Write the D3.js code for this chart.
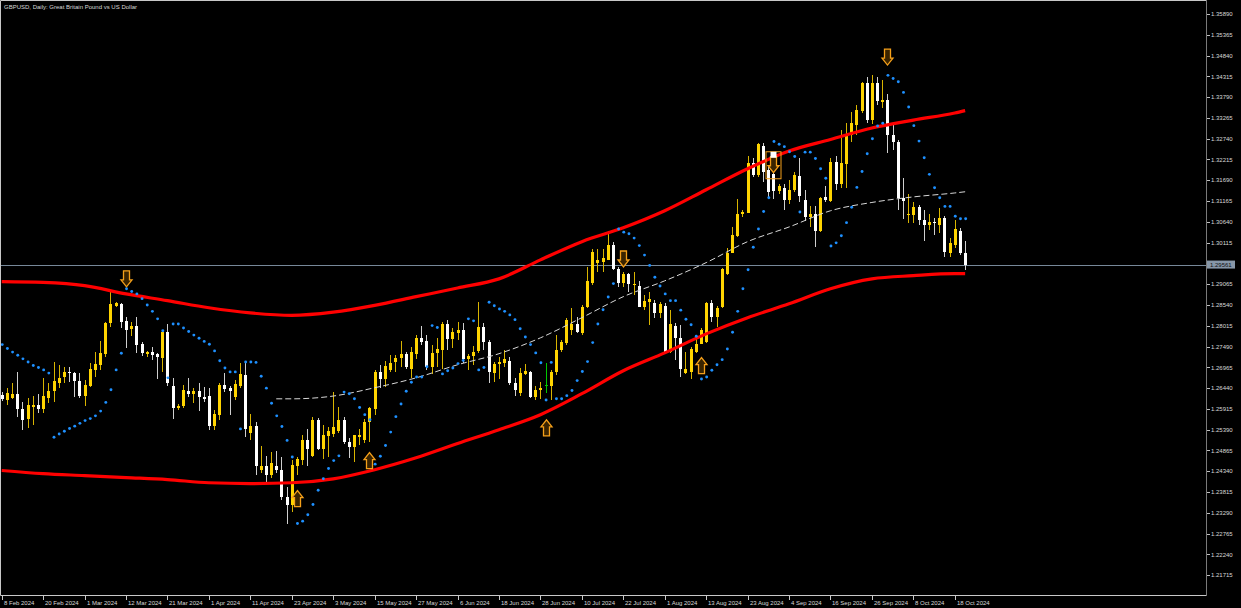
<!DOCTYPE html>
<html>
<head>
<meta charset="utf-8">
<script src="https://cdn.jsdelivr.net/npm/d3@7"></script>
<style>
  html, body { margin: 0; padding: 0; background: #000; }
  svg { display: block; }
</style>
</head>
<body>
<div id="chart"></div>
<script>
// GBPUSD daily, MetaTrader style: candles, parabolic SAR, envelope bands, signal arrows

const title = "GBPUSD, Daily:  Great Britain Pound vs US Dollar";

const open = [
1.2627,1.2615,1.2620,1.2630,1.2592,1.2567,1.2597,1.2602,1.2592,1.2620,
1.2637,1.2658,1.2672,1.2685,1.2683,1.2662,1.2625,1.2650,1.2690,1.2703,
1.2731,1.2809,1.2852,1.2857,1.2814,1.2794,1.2801,1.2756,1.2731,1.2736,
1.2731,1.2721,1.2786,1.2650,1.2593,1.2599,1.2637,1.2630,1.2637,1.2622,
1.2625,1.2549,1.2577,1.2653,1.2645,1.2622,1.2650,1.2678,1.2531,1.2549,
1.2438,1.2448,1.2425,1.2448,1.2438,1.2370,1.2350,1.2448,1.2463,1.2514,
1.2473,1.2564,1.2491,1.2524,1.2529,1.2536,1.2564,1.2509,1.2496,1.2521,
1.2514,1.2559,1.2592,1.2685,1.2668,1.2690,1.2711,1.2721,1.2731,1.2693,
1.2731,1.2771,1.2764,1.2698,1.2733,1.2741,1.2806,1.2769,1.2784,1.2791,
1.2718,1.2726,1.2738,1.2799,1.2761,1.2683,1.2706,1.2708,1.2713,1.2658,
1.2632,1.2680,1.2685,1.2622,1.2640,1.2653,1.2650,1.2685,1.2741,1.2759,
1.2791,1.2806,1.2784,1.2849,1.2910,1.2961,1.2963,1.2968,1.3006,1.2945,
1.2910,1.2933,1.2905,1.2902,1.2849,1.2862,1.2859,1.2834,1.2852,1.2736,
1.2801,1.2771,1.2683,1.2685,1.2736,1.2756,1.2761,1.2859,1.2824,1.2849,
1.2933,1.2986,1.3029,1.3085,1.3087,1.3213,1.3183,1.3256,1.3195,1.3185,
1.3142,1.3150,1.3120,1.3145,1.3180,1.3120,1.3077,1.3085,1.3042,1.3127,
1.3117,1.3216,1.3160,1.3211,1.3284,1.3309,1.3344,1.3415,1.3321,1.3415,
1.3367,1.3372,1.3284,1.3266,1.3125,1.3082,1.3082,1.3102,1.3069,1.3057,
1.3064,1.3057,1.3074,1.2986,1.3006,1.3041,1.2986
];
const high = [
1.2635,1.2645,1.2658,1.2685,1.2610,1.2620,1.2625,1.2630,1.2670,1.2658,
1.2711,1.2703,1.2698,1.2698,1.2685,1.2683,1.2665,1.2708,1.2736,1.2763,
1.2812,1.2887,1.2862,1.2860,1.2824,1.2812,1.2824,1.2761,1.2738,1.2748,
1.2733,1.2791,1.2806,1.2670,1.2605,1.2653,1.2670,1.2645,1.2658,1.2647,
1.2645,1.2590,1.2658,1.2683,1.2650,1.2665,1.2708,1.2711,1.2579,1.2559,
1.2498,1.2473,1.2483,1.2486,1.2471,1.2395,1.2463,1.2471,1.2526,1.2542,
1.2572,1.2569,1.2552,1.2546,1.2635,1.2597,1.2572,1.2519,1.2526,1.2542,
1.2567,1.2597,1.2690,1.2703,1.2713,1.2728,1.2728,1.2763,1.2736,1.2748,
1.2779,1.2801,1.2779,1.2753,1.2771,1.2812,1.2817,1.2796,1.2812,1.2809,
1.2731,1.2751,1.2862,1.2809,1.2766,1.2711,1.2723,1.2741,1.2723,1.2670,
1.2695,1.2706,1.2688,1.2650,1.2660,1.2708,1.2690,1.2779,1.2766,1.2822,
1.2847,1.2824,1.2854,1.2950,1.2996,1.2996,1.2996,1.3041,1.3014,1.2950,
1.2938,1.2935,1.2938,1.2915,1.2880,1.2887,1.2867,1.2862,1.2859,1.2842,
1.2809,1.2804,1.2736,1.2748,1.2771,1.2796,1.2862,1.2867,1.2852,1.2948,
1.2998,1.3051,1.3122,1.3095,1.3231,1.3226,1.3264,1.3264,1.3208,1.3211,
1.3160,1.3160,1.3170,1.3190,1.3226,1.3145,1.3105,1.3105,1.3127,1.3155,
1.3226,1.3231,1.3296,1.3314,1.3342,1.3360,1.3417,1.3430,1.3435,1.3430,
1.3422,1.3387,1.3309,1.3271,1.3175,1.3135,1.3115,1.3107,1.3095,1.3085,
1.3074,1.3100,1.3079,1.3024,1.3069,1.3049,1.3016
];
const low = [
1.2612,1.2602,1.2617,1.2572,1.2539,1.2544,1.2552,1.2582,1.2582,1.2607,
1.2610,1.2645,1.2658,1.2660,1.2622,1.2620,1.2600,1.2648,1.2673,1.2690,
1.2723,1.2799,1.2850,1.2795,1.2746,1.2776,1.2733,1.2726,1.2723,1.2716,
1.2668,1.2685,1.2650,1.2567,1.2590,1.2594,1.2622,1.2607,1.2587,1.2610,
1.2539,1.2539,1.2564,1.2635,1.2577,1.2615,1.2645,1.2521,1.2514,1.2425,
1.2430,1.2408,1.2418,1.2430,1.2362,1.2302,1.2332,1.2425,1.2451,1.2448,
1.2471,1.2488,1.2466,1.2471,1.2521,1.2531,1.2504,1.2468,1.2458,1.2501,
1.2506,1.2509,1.2577,1.2645,1.2648,1.2685,1.2685,1.2698,1.2693,1.2670,
1.2718,1.2753,1.2690,1.2680,1.2698,1.2693,1.2741,1.2746,1.2766,1.2708,
1.2690,1.2703,1.2733,1.2741,1.2658,1.2660,1.2668,1.2698,1.2653,1.2625,
1.2625,1.2678,1.2620,1.2615,1.2617,1.2632,1.2615,1.2678,1.2736,1.2754,
1.2779,1.2784,1.2779,1.2847,1.2905,1.2938,1.2938,1.2968,1.2943,1.2900,
1.2900,1.2887,1.2880,1.2849,1.2842,1.2804,1.2822,1.2822,1.2733,1.2733,
1.2716,1.2673,1.2680,1.2668,1.2733,1.2756,1.2758,1.2811,1.2799,1.2847,
1.2930,1.2986,1.3026,1.3077,1.3087,1.3178,1.3178,1.3165,1.3127,1.3122,
1.3135,1.3095,1.3110,1.3140,1.3115,1.3067,1.3052,1.3001,1.3039,1.3115,
1.3115,1.3145,1.3150,1.3150,1.3266,1.3284,1.3339,1.3314,1.3311,1.3359,
1.3352,1.3238,1.3246,1.3095,1.3072,1.3062,1.3062,1.3057,1.3016,1.3044,
1.3031,1.3036,1.2976,1.2976,1.2998,1.2981,1.2943
];
const close = [
1.2617,1.2632,1.2630,1.2592,1.2564,1.2602,1.2602,1.2592,1.2625,1.2637,
1.2662,1.2670,1.2685,1.2683,1.2662,1.2625,1.2653,1.2693,1.2706,1.2733,
1.2809,1.2857,1.2860,1.2812,1.2791,1.2801,1.2754,1.2733,1.2736,1.2728,
1.2723,1.2786,1.2658,1.2593,1.2599,1.2640,1.2630,1.2637,1.2622,1.2617,
1.2549,1.2579,1.2653,1.2642,1.2637,1.2655,1.2680,1.2541,1.2549,1.2448,
1.2448,1.2425,1.2456,1.2436,1.2370,1.2350,1.2451,1.2466,1.2514,1.2491,
1.2564,1.2491,1.2526,1.2536,1.2546,1.2564,1.2509,1.2496,1.2526,1.2526,
1.2559,1.2595,1.2685,1.2668,1.2701,1.2708,1.2721,1.2731,1.2698,1.2736,
1.2771,1.2761,1.2698,1.2733,1.2744,1.2806,1.2769,1.2786,1.2791,1.2718,
1.2726,1.2736,1.2799,1.2761,1.2685,1.2706,1.2711,1.2718,1.2658,1.2640,
1.2683,1.2688,1.2622,1.2640,1.2645,1.2653,1.2685,1.2741,1.2761,1.2817,
1.2806,1.2786,1.2849,1.2915,1.2988,1.2968,1.2973,1.3006,1.2945,1.2910,
1.2933,1.2907,1.2907,1.2849,1.2864,1.2869,1.2834,1.2857,1.2736,1.2806,
1.2771,1.2693,1.2693,1.2743,1.2756,1.2791,1.2859,1.2824,1.2847,1.2946,
1.2986,1.3031,1.3085,1.3090,1.3213,1.3183,1.3261,1.3190,1.3140,1.3142,
1.3155,1.3120,1.3145,1.3183,1.3130,1.3077,1.3085,1.3042,1.3125,1.3120,
1.3216,1.3160,1.3213,1.3284,1.3314,1.3347,1.3415,1.3321,1.3415,1.3370,
1.3372,1.3284,1.3266,1.3125,1.3117,1.3085,1.3102,1.3069,1.3057,1.3064,
1.3062,1.3074,1.2989,1.3011,1.3046,1.2986,1.2956
];

// parabolic SAR, one value per bar
const sar = [
1.2754,1.2744,1.2735,1.2727,1.2718,1.2710,1.2701,1.2696,1.2690,1.2682,
1.2520,1.2528,1.2535,1.2542,1.2548,1.2555,1.2562,1.2567,1.2574,1.2586,
1.2608,1.2640,1.2690,1.2732,1.2895,1.2888,1.2882,1.2870,1.2854,1.2838,
1.2819,1.2789,1.2670,1.2806,1.2806,1.2796,1.2787,1.2778,1.2770,1.2762,
1.2755,1.2738,1.2713,1.2695,1.2685,1.2685,1.2541,1.2710,1.2710,1.2709,
1.2674,1.2644,1.2606,1.2574,1.2547,1.2512,1.2470,1.2302,1.2308,1.2324,
1.2350,1.2386,1.2415,1.2441,1.2461,1.2473,1.2634,1.2630,1.2617,1.2595,
1.2577,1.2564,1.2452,1.2472,1.2499,1.2533,1.2572,1.2604,1.2636,1.2659,
1.2672,1.2672,1.2698,1.2802,1.2797,1.2680,1.2688,1.2695,1.2706,1.2714,
1.2819,1.2814,1.2690,1.2696,1.2861,1.2852,1.2844,1.2838,1.2829,1.2817,
1.2794,1.2773,1.2754,1.2733,1.2708,1.2614,1.2709,1.2617,1.2617,1.2625,
1.2638,1.2663,1.2686,1.2711,1.2759,1.2806,1.2842,1.2874,1.2908,1.3046,
1.3038,1.3034,1.3023,1.3004,1.2980,1.2954,1.2924,1.2902,1.2882,1.2865,
1.2865,1.2841,1.2818,1.2804,1.2775,1.2667,1.2672,1.2689,1.2703,1.2716,
1.2743,1.2785,1.2838,1.2895,1.2943,1.3000,1.3046,1.3090,1.3125,1.3267,
1.3260,1.3254,1.3241,1.3229,1.3089,1.3240,1.3240,1.3224,1.3198,1.3174,
1.3003,1.3011,1.3029,1.3062,1.3101,1.3151,1.3191,1.3236,1.3274,1.3306,
1.3313,1.3434,1.3426,1.3418,1.3391,1.3354,1.3307,1.3268,1.3226,1.3184,
1.3150,1.3125,1.3103,1.3103,1.3078,1.3072,1.3072
];

// envelope band read at every 8th bar
const bandBars  = [0, 8, 16, 24, 32, 40, 48, 56, 64, 72, 80, 88, 96, 104, 112, 120, 128, 136, 144, 152, 160, 168, 176, 184, 186];
const upperBand = [1.2913,1.2911,1.2903,1.2882,1.2865,1.2847,1.2834,1.2828,1.2836,1.2853,1.2875,1.2897,1.2920,1.2968,1.3014,1.3049,1.3092,1.3145,1.3198,1.3243,1.3272,1.3301,1.3321,1.3339,1.3345];
const lowerBand = [1.2436,1.2428,1.2423,1.2418,1.2413,1.2405,1.2403,1.2405,1.2415,1.2438,1.2468,1.2504,1.2539,1.2577,1.2630,1.2688,1.2733,1.2781,1.2822,1.2857,1.2895,1.2920,1.2928,1.2933,1.2933];

// dashed middle line (starts later)
const midBars = [53, 56, 64, 72, 80, 88, 96, 104, 112, 120, 128, 136, 144, 152, 160, 168, 176, 184, 186];
const midBand = [1.2617,1.2617,1.2624,1.2645,1.2670,1.2703,1.2731,1.2771,1.2822,1.2875,1.2915,1.2961,1.3014,1.3051,1.3092,1.3113,1.3127,1.3137,1.3140];

// signal arrows
const arrowBars   = [24, 120, 149, 171, 57, 71, 105, 135];
const arrowPrices = [1.2900, 1.2950, 1.3188, 1.3460, 1.2385, 1.2481, 1.2564, 1.2721];
const arrowDirs   = ["down", "down", "down", "down", "up", "up", "up", "up"];
const selectedArrow = 2;

const lastPrice = 1.29561;

const xTickBars = [0, 8, 16, 24, 32, 40, 48, 56, 64, 72, 80, 88, 96, 104, 112, 120, 128, 136, 144, 152, 160, 168, 176, 184];
const xTickLabels = ["8 Feb 2024", "20 Feb 2024", "1 Mar 2024", "12 Mar 2024", "21 Mar 2024", "1 Apr 2024",
  "11 Apr 2024", "23 Apr 2024", "3 May 2024", "15 May 2024", "27 May 2024", "6 Jun 2024",
  "18 Jun 2024", "28 Jun 2024", "10 Jul 2024", "22 Jul 2024", "1 Aug 2024", "13 Aug 2024",
  "23 Aug 2024", "4 Sep 2024", "16 Sep 2024", "26 Sep 2024", "8 Oct 2024", "18 Oct 2024"];

const yTicks = [1.35890, 1.35365, 1.34840, 1.34315, 1.33790, 1.33265, 1.32740, 1.32215, 1.31690, 1.31165,
  1.30640, 1.30115, 1.29590, 1.29065, 1.28540, 1.28015, 1.27490, 1.26965, 1.26440, 1.25915,
  1.25390, 1.24865, 1.24340, 1.23815, 1.23290, 1.22765, 1.22240, 1.21715];

const width = 1241, height = 608;
const plot = {left: 0, right: 1206, top: 0, bottom: 595};
const font = "'Liberation Sans', Arial, sans-serif";

const bars = open.map((o, i) => ({i, o, h: high[i], l: low[i], c: close[i], s: sar[i]}));

const x = d3.scaleLinear().domain([-0.33, 232.5]).range([plot.left, plot.right]);
const y = d3.scaleLinear().domain([1.21715, 1.35890]).range([575.2, 14]);

const svg = d3.select("#chart").append("svg")
    .attr("width", width)
    .attr("height", height)
    .attr("viewBox", [0, 0, width, height])
    .style("background", "#000");

svg.append("clipPath").attr("id", "clip")
  .append("rect")
    .attr("x", plot.left).attr("y", plot.top)
    .attr("width", plot.right - plot.left).attr("height", plot.bottom - plot.top);

const g = svg.append("g").attr("clip-path", "url(#clip)");

// bid line
g.append("line")
    .attr("x1", plot.left).attr("x2", plot.right)
    .attr("y1", Math.round(y(lastPrice)) + 0.5).attr("y2", Math.round(y(lastPrice)) + 0.5)
    .attr("stroke", "#778899");

// candles
const candle = g.append("g").attr("shape-rendering", "crispEdges")
  .selectAll("g")
  .data(bars)
  .join("g");

const bodyColor = d => d.c > d.o ? "#ffd400" : d.c < d.o ? "#ffffff" : "#00c800";
const wickColor = d => d.c > d.o ? "#d8b400" : d.c < d.o ? "#cfcfcf" : "#00c800";

candle.append("line")
    .attr("x1", d => Math.round(x(d.i)) + 0.5)
    .attr("x2", d => Math.round(x(d.i)) + 0.5)
    .attr("y1", d => y(d.h))
    .attr("y2", d => y(d.l))
    .attr("stroke", wickColor);

candle.append("rect")
    .attr("x", d => Math.round(x(d.i)) - 1)
    .attr("width", 3)
    .attr("y", d => y(Math.max(d.o, d.c)))
    .attr("height", d => Math.max(1, Math.abs(y(d.o) - y(d.c))))
    .attr("fill", bodyColor);

// envelope bands
const band = d3.line()
    .x(d => x(d[0]))
    .y(d => y(d[1]))
    .curve(d3.curveMonotoneX);

g.append("path")
    .attr("d", band(bandBars.map((b, k) => [b, upperBand[k]])))
    .attr("fill", "none").attr("stroke", "#ff0000").attr("stroke-width", 3.2);

g.append("path")
    .attr("d", band(bandBars.map((b, k) => [b, lowerBand[k]])))
    .attr("fill", "none").attr("stroke", "#ff0000").attr("stroke-width", 3.2);

g.append("path")
    .attr("d", band(midBars.map((b, k) => [b, midBand[k]])))
    .attr("fill", "none").attr("stroke", "#d8d8d8").attr("stroke-width", 1)
    .attr("stroke-dasharray", "6,3");

// parabolic SAR
g.append("g").selectAll("circle")
  .data(bars)
  .join("circle")
    .attr("cx", d => x(d.i) + 0.5)
    .attr("cy", d => y(d.s))
    .attr("r", 1.45)
    .attr("fill", "#1e90ff");

// arrows
function arrowPath(cx, ty, dir) {
  const k = dir === "down" ? -1 : 1;
  const p = [[-3, 16], [3, 16], [3, 7], [5.5, 7], [0, 0], [-5.5, 7], [-3, 7]];
  return "M" + p.map(([dx, dy]) => [cx + dx, ty - k * -dy].join(",")).join("L") + "Z";
}

const arrows = arrowBars.map((b, k) => ({b, p: arrowPrices[k], dir: arrowDirs[k], k}));

g.append("g").selectAll("path")
  .data(arrows)
  .join("path")
    .attr("d", d => arrowPath(Math.round(x(d.b)) + 0.5, y(d.p), d.dir === "down" ? "down" : "up"))
    .attr("transform", d => d.dir === "down" ? null : null)
    .attr("fill", "#3a2400")
    .attr("stroke", "#f5a01a")
    .attr("stroke-width", 1.3)
    .attr("stroke-linejoin", "miter");

// selection box around one arrow
const sel = arrows[selectedArrow];
const sx = Math.round(x(sel.b)) + 0.5, sy = y(sel.p);
g.append("rect")
    .attr("x", sx - 7.5).attr("y", sy - 21)
    .attr("width", 15).attr("height", 27)
    .attr("fill", "none").attr("stroke", "#f5a01a").attr("stroke-width", 1);
g.append("rect")
    .attr("x", sx - 3).attr("y", sy - 21)
    .attr("width", 6).attr("height", 6)
    .attr("fill", "#ffffff");

// frame
svg.append("path")
    .attr("d", `M${plot.right},0.5H0.5V${plot.bottom + 0.5}H${plot.right}`)
    .attr("fill", "none").attr("stroke", "#c8c8c8");
svg.append("line")
    .attr("x1", plot.right + 0.5).attr("x2", plot.right + 0.5)
    .attr("y1", 0).attr("y2", plot.bottom + 1)
    .attr("stroke", "#7a7a7a");

// price axis
const yAxis = svg.append("g");
yAxis.selectAll("line")
  .data(yTicks)
  .join("line")
    .attr("x1", plot.right + 1).attr("x2", plot.right + 4)
    .attr("y1", d => Math.round(y(d)) + 0.5).attr("y2", d => Math.round(y(d)) + 0.5)
    .attr("stroke", "#bfbfbf");
yAxis.selectAll("text")
  .data(yTicks)
  .join("text")
    .attr("x", plot.right + 5)
    .attr("y", d => y(d) + 2.2)
    .attr("fill", "#d8d8d8")
    .style("font", `6px ${font}`)
    .text(d => d.toFixed(5));

// last price tag
const py = y(lastPrice);
svg.append("rect")
    .attr("x", plot.right + 1).attr("y", py - 4)
    .attr("width", 28).attr("height", 8)
    .attr("fill", "#8797a8");
svg.append("text")
    .attr("x", plot.right + 4).attr("y", py + 2.3)
    .attr("fill", "#101010")
    .style("font", `6px ${font}`)
    .text(lastPrice.toFixed(5));

// time axis
const xAxis = svg.append("g");
xAxis.selectAll("line")
  .data(xTickBars)
  .join("line")
    .attr("x1", d => Math.round(x(d)) + 0.5).attr("x2", d => Math.round(x(d)) + 0.5)
    .attr("y1", plot.bottom + 1).attr("y2", plot.bottom + 5)
    .attr("stroke", "#c8c8c8");
xAxis.selectAll("text")
  .data(xTickBars)
  .join("text")
    .attr("x", d => Math.round(x(d)) + 2)
    .attr("y", plot.bottom + 9.5)
    .attr("fill", "#d8d8d8")
    .style("font", `6px ${font}`)
    .text((d, k) => xTickLabels[k]);

// title
svg.append("text")
    .attr("x", 4).attr("y", 8.5)
    .attr("fill", "#d8d8d8")
    .style("font", `6px ${font}`)
    .text(title);
</script>
</body>
</html>
